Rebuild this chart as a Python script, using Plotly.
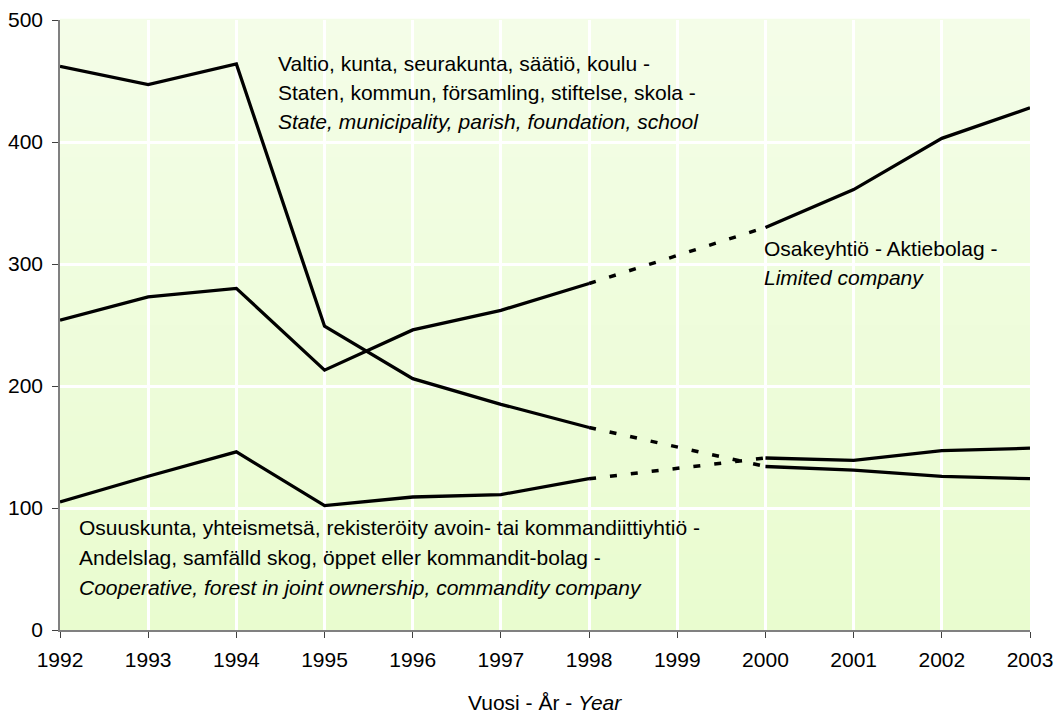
import plotly.graph_objects as go

years = ["1992", "1993", "1994", "1995", "1996", "1997", "1998", "1999", "2000", "2001", "2002", "2003"]
state = [462, 447, 464, 249, 206, 185, 166, None, 134, 131, 126, 124]
limited = [254, 273, 280, 213, 246, 262, 284, None, 330, 361, 403, 428]
coop = [105, 126, 146, 102, 109, 111, 124, None, 141, 139, 147, 149]

state_label = ["Valtio, kunta, seurakunta, säätiö, koulu -",
               "Staten, kommun, församling, stiftelse, skola -",
               "<i>State, municipality, parish, foundation, school</i>"]
limited_label = ["Osakeyhtiö - Aktiebolag -", "<i>Limited company</i>"]
coop_label = ["Osuuskunta, yhteismetsä, rekisteröity avoin- tai kommandiittiyhtiö -",
              "Andelslag, samfälld skog, öppet eller kommandit-bolag -",
              "<i>Cooperative, forest in joint ownership, commandity company</i>"]
x_title = "Vuosi - År - <i>Year</i>"

FONT = "Liberation Sans, Arial, sans-serif"
FS = 21
fig = go.Figure()

gap_i = years.index("1999")
for s in (state, limited, coop):
    fig.add_trace(go.Scatter(x=years, y=s, mode="lines", connectgaps=False,
                             line=dict(color="black", width=3.3), hoverinfo="skip"))
    xs = years[gap_i - 1:gap_i + 2]
    ys = s[gap_i - 1:gap_i + 2]
    fig.add_trace(go.Scatter(x=xs, y=ys, mode="lines", connectgaps=True,
                             line=dict(color="black", width=3.5, dash="7px,14px"), hoverinfo="skip"))

# background gradient bands
n = 40
top = (244, 253, 232)
bot = (233, 252, 207)
shapes = []
for i in range(n):
    t = (i + 0.5) / n
    c = tuple(round(bot[k] + (top[k] - bot[k]) * t) for k in range(3))
    shapes.append(dict(type="rect", xref="x domain", yref="y domain",
                       x0=0, x1=1, y0=i / n, y1=(i + 1) / n + 0.002,
                       fillcolor="rgb(%d,%d,%d)" % c, line=dict(width=0), layer="below"))

# plot area spans x 60..1030, y 20..630
W = 1030 - 60
H = 630 - 20
def px(xp): return (xp - 60) / W
def py(yp): return (630 - yp) / H

ann = []
def add_lines(lines, x, y0, step):
    for j, t in enumerate(lines):
        ann.append(dict(text=t, xref="paper", yref="paper", x=x, y=y0, xanchor="left", yanchor="middle",
                        yshift=-step * j, showarrow=False, font=dict(family=FONT, size=FS, color="black")))

add_lines(state_label, px(276), py(63), 29)
add_lines(limited_label, px(762), py(248), 29.5)
add_lines(coop_label, px(77), py(527), 30)
ann.append(dict(text=x_title, xref="paper", yref="paper", x=0.5, y=py(702), xanchor="center", yanchor="middle",
                showarrow=False, font=dict(family=FONT, size=FS, color="black")))

fig.update_layout(
    width=1056, height=713,
    margin=dict(l=60, r=26, t=20, b=83, autoexpand=False),
    paper_bgcolor="white", plot_bgcolor="rgb(238,252,220)",
    showlegend=False,
    shapes=shapes, annotations=ann,
    font=dict(family=FONT, size=FS, color="black"),
    xaxis=dict(type="category", categoryorder="array", categoryarray=years,
               range=[0, 11], showgrid=True, gridcolor="white", gridwidth=2.5,
               showline=True, linecolor="#808080", linewidth=1.5, automargin=False,
               ticks="outside", ticklen=6, tickcolor="#404040", ticklabelstandoff=4,
               tickfont=dict(family=FONT, size=FS, color="black"),
               zeroline=False),
    yaxis=dict(range=[0, 500], dtick=100, showgrid=True, gridcolor="white", gridwidth=2.5,
               showline=True, linecolor="#808080", linewidth=1.5, automargin=False,
               ticks="outside", ticklen=6, tickcolor="#404040", ticklabelstandoff=5,
               tickfont=dict(family=FONT, size=FS, color="black"), zeroline=False),
)

fig.write_html("out.html", config={"displayModeBar": False},
               post_script="document.body.style.margin='0';document.body.style.overflow='hidden';")
